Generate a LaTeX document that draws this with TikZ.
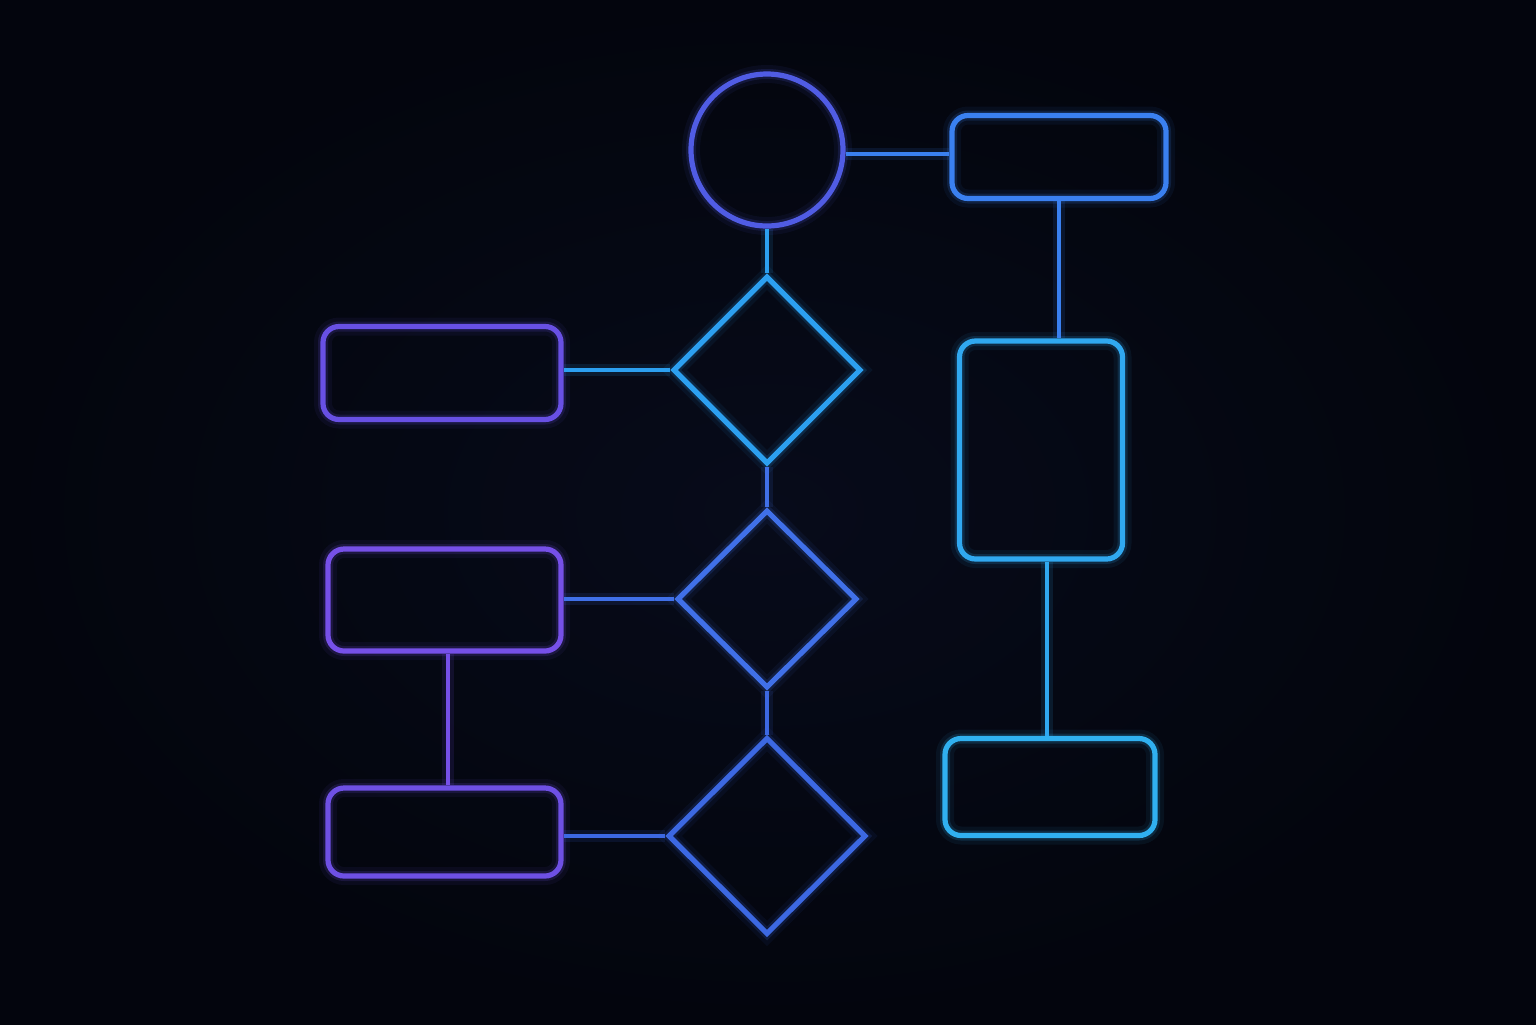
\documentclass[tikz,border=0pt]{standalone}
\usetikzlibrary{shapes.geometric}
\definecolor{bgc}{RGB}{3,5,13}
\definecolor{bgin}{RGB}{7,11,26}
\definecolor{ccirc}{RGB}{80,92,228}
\definecolor{crA}{RGB}{58,128,240}
\definecolor{crB}{RGB}{48,168,240}
\definecolor{crC}{RGB}{48,176,240}
\definecolor{cdA}{RGB}{44,160,240}
\definecolor{cdB}{RGB}{64,112,232}
\definecolor{cdC}{RGB}{60,104,226}
\definecolor{clA}{RGB}{104,80,228}
\definecolor{clB}{RGB}{118,80,232}
\definecolor{clC}{RGB}{110,80,228}
\tikzset{
  neon/.style={draw=#1, line width=2.6pt,
    preaction={draw=#1, line width=9pt, opacity=0.07},
    preaction={draw=#1, line width=5pt, opacity=0.16}},
  wire/.style={draw=#1, line width=2pt,
    preaction={draw=#1, line width=6pt, opacity=0.12}},
  rbox/.style={rectangle, rounded corners=8pt, inner sep=0pt, neon=#1},
  dia/.style={diamond, inner sep=0pt, neon=#1},
}
\begin{document}
\begin{tikzpicture}[x=0.5pt,y=-0.5pt]
\useasboundingbox (0,0) rectangle (1536,1024);
\shade[inner color=bgin, outer color=bgc] (0,0) rectangle (1536,1024);

\node[circle, inner sep=0pt, minimum size=76pt, neon=ccirc] (c) at (767,150) {};
\node[rbox=crA, minimum width=107pt, minimum height=41.5pt] (r1) at (1059,157) {};
\node[rbox=crB, minimum width=81.5pt, minimum height=109pt] (r2) at (1041,450) {};
\node[rbox=crC, minimum width=105pt, minimum height=48.5pt] (r3) at (1050,787) {};

\node[dia=cdA, minimum width=94pt, minimum height=94pt] (d1) at (767,370) {};
\node[dia=cdB, minimum width=90pt, minimum height=89pt] (d2) at (767,599) {};
\node[dia=cdC, minimum width=99pt, minimum height=98.5pt] (d3) at (767,836) {};

\node[rbox=clA, minimum width=119pt, minimum height=46.5pt] (l1) at (442,373) {};
\node[rbox=clB, minimum width=116.5pt, minimum height=51pt] (l2) at (444.5,600) {};
\node[rbox=clC, minimum width=116.5pt, minimum height=44pt] (l3) at (444.5,832) {};

\draw[wire=crA] (c.-3) -- (c.-3 -| r1.west);
\draw[wire=crA] (r1.south) -- (r1.south |- r2.north);
\draw[wire=crB] ([xshift=3pt]r2.south) -- ([xshift=3pt]r2.south |- r3.north);
\draw[wire=cdA] (c.south) -- (d1.north);
\draw[wire=cdB] (d1.south) -- (d2.north);
\draw[wire=cdC] (d2.south) -- (d3.north);
\draw[wire=cdA] (d1.west) -- (d1.west -| l1.east);
\draw[wire=cdB] (d2.west) -- (d2.west -| l2.east);
\draw[wire=cdC] (d3.west) -- (d3.west -| l3.east);
\draw[wire=clB] ([xshift=1.5pt]l2.south) -- ([xshift=1.5pt]l2.south |- l3.north);
\end{tikzpicture}
\end{document}
